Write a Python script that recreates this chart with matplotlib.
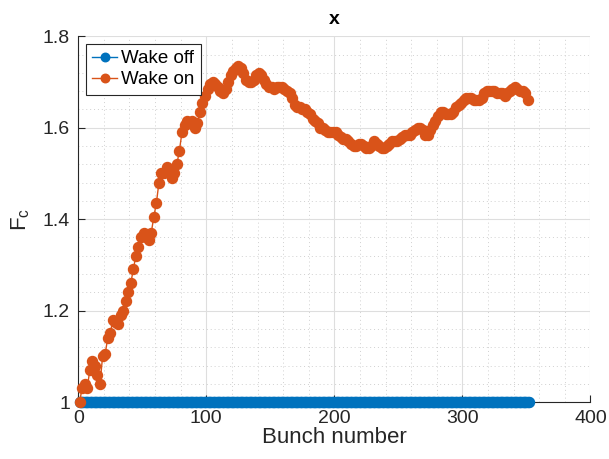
import matplotlib.pyplot as plt
import numpy as np
from matplotlib.ticker import MultipleLocator

plt.rcParams['font.family'] = ['Liberation Sans', 'DejaVu Sans']
plt.rcParams['mathtext.default'] = 'regular'

BLUE = "#0072BD"
ORANGE = "#D95319"
AX_COLOR = "#262626"

# wake off: every bunch stays at 1
bunch_off = np.arange(1, 353)
fc_off = [1.0] * len(bunch_off)

# wake on: read at every 2nd bunch (1, 3, 5, ... 351)
bunch_on = np.arange(1, 352, 2)
fc_on = [
    1.00, 1.03, 1.04, 1.03, 1.07, 1.09, 1.08, 1.06, 1.04, 1.10,
    1.105, 1.14, 1.15, 1.18, 1.175, 1.17, 1.19, 1.20, 1.22, 1.24,
    1.26, 1.29, 1.32, 1.34, 1.36, 1.37, 1.36, 1.355, 1.37, 1.405,
    1.435, 1.48, 1.50, 1.50, 1.515, 1.51, 1.49, 1.50, 1.52, 1.55,
    1.59, 1.605, 1.615, 1.61, 1.615, 1.60, 1.61, 1.635, 1.655, 1.67,
    1.685, 1.695, 1.70, 1.695, 1.69, 1.68, 1.675, 1.685, 1.70, 1.715,
    1.725, 1.73, 1.735, 1.73, 1.72, 1.705, 1.70, 1.70, 1.705, 1.715,
    1.72, 1.715, 1.705, 1.695, 1.69, 1.69, 1.685, 1.69, 1.69, 1.69,
    1.685, 1.68, 1.675, 1.665, 1.65, 1.645, 1.645, 1.64, 1.64, 1.635,
    1.63, 1.62, 1.615, 1.61, 1.60, 1.60, 1.595, 1.59, 1.59, 1.59,
    1.59, 1.585, 1.58, 1.575, 1.575, 1.57, 1.565, 1.56, 1.56, 1.565,
    1.565, 1.56, 1.555, 1.555, 1.56, 1.57, 1.565, 1.56, 1.555, 1.555,
    1.56, 1.565, 1.57, 1.57, 1.57, 1.575, 1.58, 1.585, 1.585, 1.585,
    1.59, 1.595, 1.60, 1.60, 1.595, 1.585, 1.585, 1.595, 1.605, 1.615,
    1.625, 1.635, 1.635, 1.63, 1.63, 1.63, 1.635, 1.645, 1.65, 1.655,
    1.66, 1.665, 1.665, 1.665, 1.66, 1.66, 1.66, 1.665, 1.675, 1.68,
    1.68, 1.68, 1.68, 1.675, 1.675, 1.675, 1.67, 1.675, 1.68, 1.685,
    1.69, 1.685, 1.68, 1.68, 1.675, 1.66,
]
bunch_on = bunch_on[:len(fc_on)]

xticks = [0, 100, 200, 300, 400]
yticks = [1, 1.2, 1.4, 1.6, 1.8]
ytick_labels = ["1", "1.2", "1.4", "1.6", "1.8"]

fig = plt.figure(figsize=(6.09, 4.59), dpi=100)
ax = fig.add_axes([0.1285, 0.124, 0.841, 0.797])

ax.plot(bunch_off, fc_off, '-o', color=BLUE, markersize=7.2, linewidth=1,
        label="Wake off", clip_on=False, zorder=3)
ax.plot(bunch_on, fc_on, '-o', color=ORANGE, markersize=7.2, linewidth=1,
        label="Wake on", clip_on=False, zorder=4)

ax.set_xlim(0, 400)
ax.set_ylim(1, 1.8)
ax.set_xticks(xticks)
ax.set_yticks(yticks)
ax.set_yticklabels(ytick_labels)
ax.xaxis.set_minor_locator(MultipleLocator(20))
ax.yaxis.set_minor_locator(MultipleLocator(0.04))

ax.grid(True, which='major', color='#dedede', linewidth=0.8)
ax.grid(True, which='minor', color='#d0d0d0', linestyle=(0, (1, 3)), linewidth=0.7)
ax.set_axisbelow(True)

ax.spines['top'].set_visible(False)
ax.spines['right'].set_visible(False)
for s in ('left', 'bottom'):
    ax.spines[s].set_color(AX_COLOR)
    ax.spines[s].set_linewidth(0.8)
ax.tick_params(which='both', direction='in', colors=AX_COLOR, labelsize=14)
ax.tick_params(which='major', length=5, pad=6)
ax.tick_params(which='minor', length=0)

ax.set_title("x", fontsize=14, fontweight='bold', color='black', pad=9)
ax.set_xlabel("Bunch number", fontsize=16, color=AX_COLOR, labelpad=0)
ax.set_ylabel("$F_c$", fontsize=16, color=AX_COLOR, labelpad=8)

leg = ax.legend(loc='upper left', fontsize=13.5, handlelength=1.3,
                borderpad=0.35, labelspacing=0.2, handletextpad=0.25,
                fancybox=False, framealpha=1, borderaxespad=0.4,
                markerscale=0.85)
leg.get_frame().set_edgecolor(AX_COLOR)
leg.get_frame().set_linewidth(0.8)

fig.savefig("out.png", dpi=100)
